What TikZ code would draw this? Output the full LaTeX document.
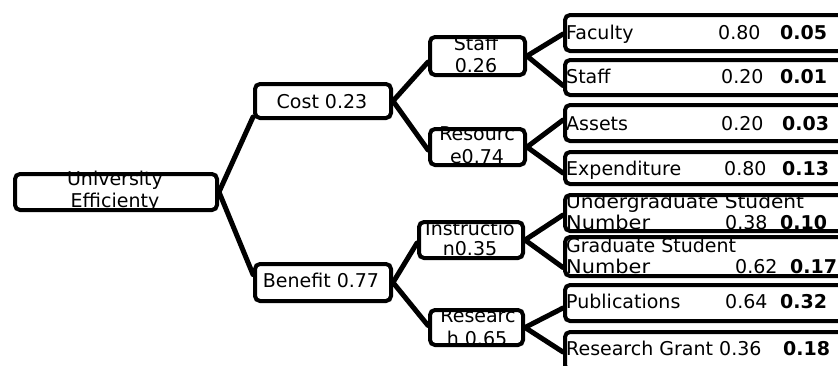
\documentclass[tikz,border=0pt]{standalone}
\usepackage{fontspec}
\setmainfont{DejaVu Sans}
\usetikzlibrary{calc}
\begin{document}
\begin{tikzpicture}[x=1pt,y=-1pt,
  box/.style={draw, line width=4pt, rounded corners=5pt, inner sep=0pt},
  conn/.style={line width=5pt, line cap=round},
  txt/.style={anchor=base, inner sep=0pt, font=\fontsize{19}{22}\selectfont},
  ltxt/.style={anchor=base west, inner sep=0pt, font=\fontsize{19}{22}\selectfont},
  btxt/.style={anchor=base west, inner sep=0pt, font=\fontsize{19}{22}\selectfont\bfseries}]
\useasboundingbox (0,0) rectangle (838,365);
\clip (0,0) rectangle (838,365);
\fill[white] (0,0) rectangle (838,365);

% ---- texts ----
\node[txt] (t1) at (115,185) {University};
\node[txt] (t2) at (115,207) {Efficienty};
\node[txt] (t3) at (322,108) {Cost 0.23};
\node[txt] (t4) at (321,287) {Benefit 0.77};
\node[txt] (t5) at (476,50) {Staff};
\node[txt] (t6) at (476,72) {0.26};
\node[txt] (t7) at (477,140) {Resourc};
\node[txt] (t8) at (477,163) {e0.74};
\node[txt] (t9) at (470,235) {Instructio};
\node[txt] (t10) at (470,255) {n0.35};
\node[txt] (t11) at (478,322) {Researc};
\node[txt] (t12) at (477,345) {h 0.65};

\node[ltxt] (l1) at (566,39) {Faculty};
\node[ltxt] (l1a) at (718,39) {0.80};
\node[btxt] (l1b) at (780,39) {0.05};
\node[ltxt] (l2) at (566,83) {Staff};
\node[ltxt] (l2a) at (721,83) {0.20};
\node[btxt] (l2b) at (780,83) {0.01};
\node[ltxt] (l3) at (566,130) {Assets};
\node[ltxt] (l3a) at (721,130) {0.20};
\node[btxt] (l3b) at (782,130) {0.03};
\node[ltxt] (l4) at (566,175) {Expenditure};
\node[ltxt] (l4a) at (724,175) {0.80};
\node[btxt] (l4b) at (782,175) {0.13};
\node[ltxt] (l5) at (566,208) {\scalebox{1.06}[1]{Undergraduate Student}};
\node[ltxt] (l5n) at (566,229) {\scalebox{1.1}[1]{Number}};
\node[ltxt] (l5a) at (725,229) {0.38};
\node[btxt] (l5b) at (780,229) {0.10};
\node[ltxt] (l6) at (566,252) {Graduate Student};
\node[ltxt] (l6n) at (566,273) {\scalebox{1.1}[1]{Number}};
\node[ltxt] (l6a) at (735,273) {0.62};
\node[btxt] (l6b) at (790,273) {0.17};
\node[ltxt] (l7) at (566,308) {Publications};
\node[ltxt] (l7a) at (725,308) {0.64};
\node[btxt] (l7b) at (780,308) {0.32};
\node[ltxt] (l8) at (566,355) {Research Grant};
\node[ltxt] (l8a) at (719,355) {0.36};
\node[btxt] (l8b) at (783,355) {0.18};

% ---- boxes ----
\node[box, minimum width=202pt, minimum height=36pt] (uni) at (116,192) {};
\node[box, minimum width=136pt, minimum height=34pt] (cost) at (323,101) {};
\node[box, minimum width=136pt, minimum height=37pt] (benefit) at (323,282.5) {};
\node[box, minimum width=95pt, minimum height=38pt] (staffm) at (477.5,56) {};
\node[box, minimum width=95pt, minimum height=36pt] (resource) at (477.5,147) {};
\node[box, minimum width=104pt, minimum height=36pt] (instr) at (471,240) {};
\node[box, minimum width=93pt, minimum height=35pt] (research) at (476.5,327.5) {};

\node[box, minimum width=303pt, minimum height=36pt] (faculty) at (716.5,33) {};
\node[box, minimum width=303pt, minimum height=35pt] (staffl) at (716.5,77.5) {};
\node[box, minimum width=303pt, minimum height=36pt] (assets) at (716.5,123) {};
\node[box, minimum width=303pt, minimum height=32pt] (expend) at (716.5,168) {};
\node[box, minimum width=303pt, minimum height=36pt] (under) at (716.5,213) {};
\node[box, minimum width=303pt, minimum height=39pt] (grad) at (716.5,256.5) {};
\node[box, minimum width=303pt, minimum height=36pt] (pub) at (716.5,303) {};
\node[box, minimum width=303pt, minimum height=38pt] (grant) at (716.5,351) {};

% ---- connectors ----
\draw[conn] (uni.east) -- ($(cost.west)+(0,16)$);
\draw[conn] (uni.east) -- ($(benefit.west)+(0,-8)$);
\draw[conn] (cost.east) -- ($(staffm.west)+(0,6)$);
\draw[conn] (cost.east) -- ($(resource.west)+(0,3)$);
\draw[conn] (benefit.east) -- ($(instr.west)+(0,3)$);
\draw[conn] (benefit.east) -- ($(research.west)+(0,-2)$);
\draw[conn] (staffm.east) -- ($(faculty.west)+(0,1)$);
\draw[conn] (staffm.east) -- ($(staffl.west)+(0,8)$);
\draw[conn] (resource.east) -- ($(assets.west)+(0,-3)$);
\draw[conn] (resource.east) -- ($(expend.west)+(0,5)$);
\draw[conn] (instr.east) -- ($(under.west)+(0,2)$);
\draw[conn] (instr.east) -- ($(grad.west)+(0,11)$);
\draw[conn] (research.east) -- ($(pub.west)+(0,5)$);
\draw[conn] (research.east) -- ($(grant.west)+(0,1)$);
\end{tikzpicture}
\end{document}
